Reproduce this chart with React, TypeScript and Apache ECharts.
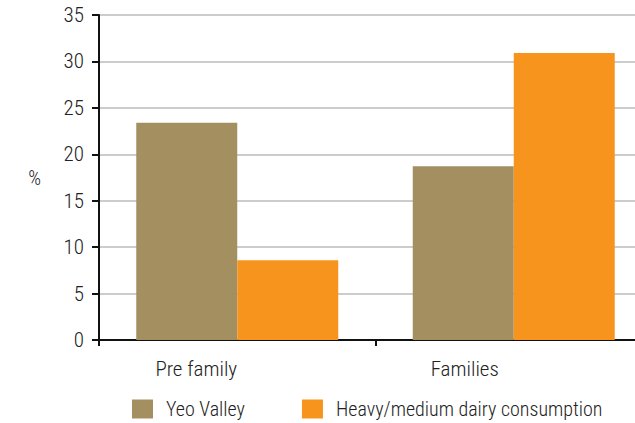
import React, { useEffect, useRef } from "react";
import * as echarts from "echarts";

const categories = ["Pre family", "Families"];
const yeoValley = [23.4, 18.7];
const heavyDairy = [8.6, 30.9];
const seriesNames = ["Yeo Valley", "Heavy/medium dairy consumption"];
const yTicks = [0, 5, 10, 15, 20, 25, 30, 35];

const FONT = "'Roboto Condensed', 'DejaVu Sans Condensed', sans-serif";
const W = 300;

export default function App() {
  const ref = useRef<HTMLDivElement>(null);
  useEffect(() => {
    if (!ref.current) return;
    const chart = echarts.init(ref.current, null, { renderer: "svg" });
    chart.setOption({
      animation: false,
      backgroundColor: "#ffffff",
      grid: { left: 99, top: 15, width: 553, height: 325, containLabel: false, outerBoundsMode: "none" },
      legend: {
        left: 127,
        top: 394,
        width: 600,
        padding: 5,
        itemWidth: 21,
        itemHeight: 19,
        itemGap: 57,
        icon: "rect",
        textStyle: { fontFamily: FONT, fontWeight: W, fontSize: 20, color: "#222", padding: [0, 0, 0, 8] },
        data: seriesNames,
      },
      xAxis: {
        type: "category",
        data: categories,
        axisLine: { lineStyle: { color: "#111", width: 2 } },
        axisTick: { show: true, length: 6, lineStyle: { color: "#111", width: 2 } },
        axisLabel: {
          margin: 18,
          fontFamily: FONT,
          fontWeight: W,
          fontSize: 21,
          color: "#222",
          formatter: (v: string) => (v === categories[0] ? `{a|${v}}` : `{b|${v}}`),
          rich: {
            a: { fontFamily: FONT, fontWeight: W, fontSize: 21, color: "#222", padding: [0, 82, 0, 0] },
            b: { fontFamily: FONT, fontWeight: W, fontSize: 21, color: "#222", padding: [0, 98, 0, 0] },
          },
        },
        splitLine: { show: false },
      },
      yAxis: {
        type: "value",
        min: yTicks[0],
        max: yTicks[yTicks.length - 1],
        interval: 5,
        name: "%",
        nameLocation: "middle",
        nameRotate: 0,
        nameGap: 58,
        nameTextStyle: { fontFamily: FONT, fontWeight: W, fontSize: 20, color: "#222" },
        axisLine: { show: true, lineStyle: { color: "#111", width: 2 } },
        axisTick: { show: true, length: 7, lineStyle: { color: "#111", width: 2 } },
        axisLabel: { margin: 15, fontFamily: FONT, fontWeight: W, fontSize: 21, color: "#222" },
        splitLine: { show: true, lineStyle: { color: "#cccccc", width: 2 } },
      },
      series: [
        {
          name: seriesNames[0],
          type: "bar",
          data: yeoValley,
          barWidth: 101,
          barGap: "0%",
          itemStyle: { color: "#A48F60" },
        },
        {
          name: seriesNames[1],
          type: "bar",
          data: heavyDairy,
          barWidth: 101,
          barGap: "0%",
          itemStyle: { color: "#F7941E" },
        },
      ],
    });
    return () => chart.dispose();
  }, []);
  return <div ref={ref} style={{ width: 635, height: 423, position: "absolute", left: 0, top: 0 }} />;
}
